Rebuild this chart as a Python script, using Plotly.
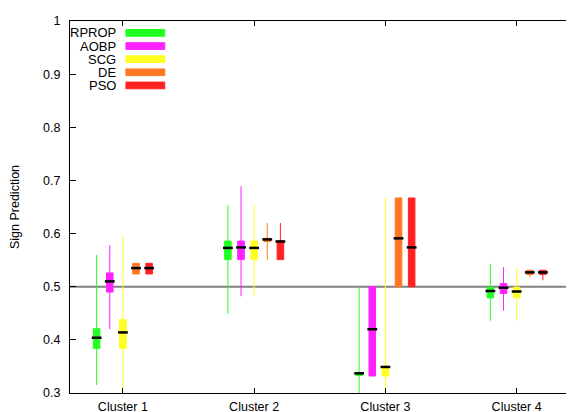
import plotly.graph_objects as go

clusters = ["Cluster 1", "Cluster 2", "Cluster 3", "Cluster 4"]
series = ["RPROP", "AOBP", "SCG", "DE", "PSO"]
colors = ["#22ff22", "#ff22ff", "#ffff22", "#ff7722", "#ff2222"]

# per series: values for clusters 1..4
lower = {
    "RPROP": [0.315, 0.449, 0.28, 0.436],
    "AOBP": [0.420, 0.482, 0.332, 0.455],
    "SCG": [0.29, 0.482, 0.28, 0.436],
    "DE": [0.524, 0.551, 0.500, 0.518],
    "PSO": [0.524, 0.551, 0.500, 0.512],
}
q1 = {
    "RPROP": [0.384, 0.551, 0.333, 0.479],
    "AOBP": [0.490, 0.551, 0.332, 0.487],
    "SCG": [0.384, 0.551, 0.332, 0.479],
    "DE": [0.524, 0.585, 0.500, 0.523],
    "PSO": [0.524, 0.551, 0.500, 0.523],
}
median = {
    "RPROP": [0.404, 0.573, 0.337, 0.492],
    "AOBP": [0.510, 0.574, 0.420, 0.498],
    "SCG": [0.414, 0.573, 0.349, 0.491],
    "DE": [0.535, 0.589, 0.591, 0.527],
    "PSO": [0.535, 0.585, 0.574, 0.527],
}
q3 = {
    "RPROP": [0.421, 0.586, 0.338, 0.499],
    "AOBP": [0.526, 0.586, 0.500, 0.506],
    "SCG": [0.438, 0.586, 0.351, 0.499],
    "DE": [0.544, 0.591, 0.667, 0.531],
    "PSO": [0.544, 0.587, 0.667, 0.531],
}
upper = {
    "RPROP": [0.560, 0.654, 0.500, 0.543],
    "AOBP": [0.578, 0.689, 0.500, 0.537],
    "SCG": [0.595, 0.654, 0.667, 0.536],
    "DE": [0.544, 0.620, 0.667, 0.531],
    "PSO": [0.544, 0.620, 0.667, 0.531],
}
yticks = [0.3, 0.4, 0.5, 0.6, 0.7, 0.8, 0.9, 1.0]
yticklabels = ["0.3", "0.4", "0.5", "0.6", "0.7", "0.8", "0.9", "1"]
reference_level = 0.5

FONT = "Liberation Sans, Arial, Helvetica, sans-serif"
offsets = [-0.2, -0.1, 0.0, 0.1, 0.2]
centers = [i + 1 for i in range(len(clusters))]

fig = go.Figure()
for k, name in enumerate(series):
    xs = [c + offsets[k] for c in centers]
    fig.add_trace(go.Box(
        x=xs, q1=q1[name], median=median[name], q3=q3[name],
        lowerfence=lower[name], upperfence=upper[name],
        name=name, width=0.05, whiskerwidth=0,
        line=dict(color=colors[k], width=1), fillcolor=colors[k],
        boxpoints=False, showlegend=False,
    ))
    fig.add_trace(go.Scatter(
        x=xs, y=median[name], mode="markers",
        marker=dict(symbol="line-ew", size=7, line=dict(color="black", width=2.5)),
        showlegend=False, hoverinfo="skip",
    ))

fig.add_shape(type="line", xref="paper", x0=0, x1=1, yref="y",
              y0=reference_level, y1=reference_level,
              line=dict(color="#808080", width=2), layer="below")

# gnuplot-style key: text right-aligned, swatch to the right
for k, name in enumerate(series):
    yc = 0.968 - k * 0.0353
    fig.add_annotation(xref="paper", yref="paper", x=0.095, y=yc, text=name,
                       showarrow=False, xanchor="right", yanchor="middle",
                       font=dict(family=FONT, size=13, color="black"))
    fig.add_shape(type="rect", xref="paper", yref="paper",
                  x0=0.111, x1=0.188, y0=yc - 0.009, y1=yc + 0.009,
                  fillcolor=colors[k], line=dict(color=colors[k], width=1))

fig.update_layout(
    width=574, height=412,
    margin=dict(l=61, r=8, t=6, b=26),
    plot_bgcolor="white", paper_bgcolor="white",
    font=dict(family=FONT, size=12.5, color="black"),
    showlegend=False,
    xaxis=dict(range=[0.597, 4.437], tickvals=centers, ticktext=clusters,
               ticks="inside", ticklen=5, tickcolor="black",
               showline=True, linecolor="black", linewidth=1, mirror="ticks",
               showgrid=False, zeroline=False, ticklabelstandoff=2),
    yaxis=dict(range=[0.3, 1.0], tickvals=yticks, ticktext=yticklabels,
               ticks="inside", ticklen=6, tickcolor="black",
               showline=True, linecolor="black", linewidth=1,
               showgrid=False, zeroline=False, ticklabelstandoff=6,
               title=dict(text="Sign Prediction", standoff=20,
                          font=dict(family=FONT, size=12.5))),
)

fig.write_html("out.html")
